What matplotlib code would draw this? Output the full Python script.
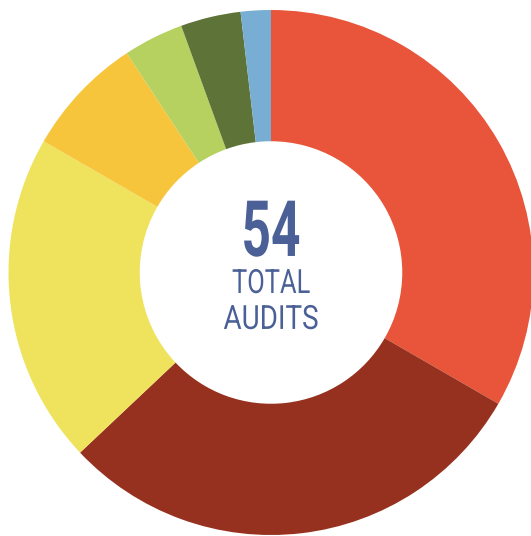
import matplotlib
matplotlib.use("Agg")
import matplotlib.pyplot as plt
from matplotlib.patheffects import AbstractPathEffect
from matplotlib.transforms import Affine2D

categories = ["Orange", "Dark red", "Yellow", "Amber", "Light green", "Dark green", "Blue"]
values = [18, 16, 11, 4, 2, 2, 1]
colors = ["#E8553A", "#97311F", "#EFE35E", "#F7C53C", "#B6D160", "#5E7337", "#78ADD4"]
total_label = "54"
sub_lines = ["TOTAL", "AUDITS"]
text_color = "#4A6096"


class Condense(AbstractPathEffect):
    def __init__(self, cx, cy, sx, sy):
        super().__init__()
        self.cx, self.cy, self.sx, self.sy = cx, cy, sx, sy

    def draw_path(self, renderer, gc, tpath, affine, rgbFace=None):
        t = affine + Affine2D().translate(-self.cx, -self.cy).scale(self.sx, self.sy).translate(self.cx, self.cy)
        renderer.draw_path(gc, tpath, t, rgbFace)


fig = plt.figure(figsize=(5.31, 5.36), dpi=100)
ax = fig.add_axes([8.5 / 531, 1.0 / 536, 525 / 531, 525 / 536])
ax.pie(values, colors=colors, startangle=90, counterclock=False,
       radius=1.0, wedgeprops=dict(width=0.5, edgecolor="none", linewidth=0))
ax.set_xlim(-1, 1)
ax.set_ylim(-1, 1)
ax.set_aspect("auto")
ax.axis("off")

# (text, baseline y in data, base fontsize, vertical scale, weight, target width px)
specs = [
    (total_label, 0.063, 36, 56 / 36, "bold", 59),
    (sub_lines[0], -0.078, 22, 24 / 22, "normal", 78),
    (sub_lines[1], -0.215, 22, 24 / 22, "normal", 95),
]
renderer = fig.canvas.get_renderer()
for s, y, fs, sy, w, target in specs:
    t = ax.text(0.0, y, s, ha="center", va="baseline", fontsize=fs,
                fontweight=w, color=text_color, family="Roboto")
    bb = t.get_window_extent(renderer)
    cx, cy = ax.transData.transform((0.0, y))
    t.set_path_effects([Condense(cx, cy, target / bb.width, sy)])

fig.savefig("out.png", dpi=100)
